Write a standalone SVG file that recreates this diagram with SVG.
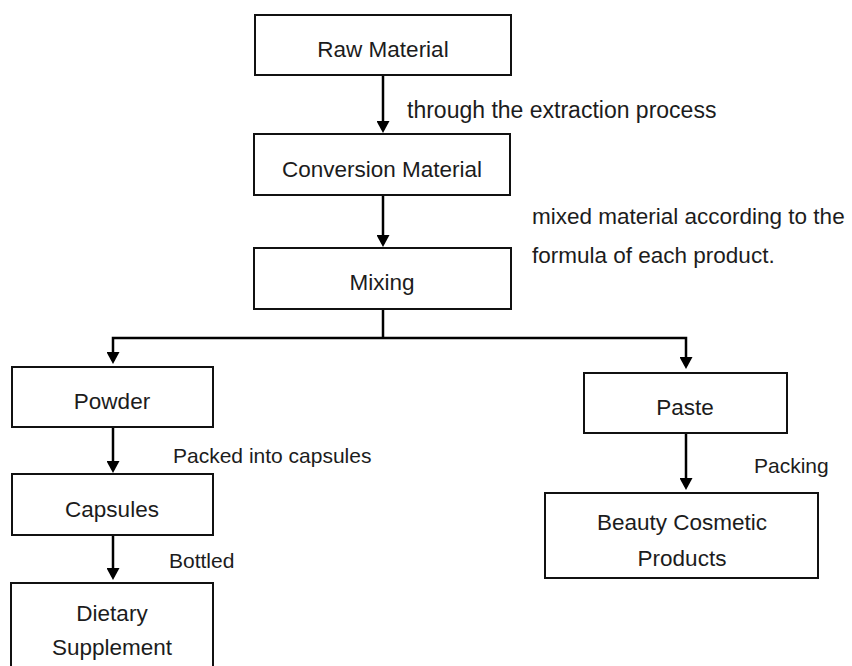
<svg xmlns="http://www.w3.org/2000/svg" width="852" height="666" viewBox="0 0 852 666">
<style>
  .box { fill: #ffffff; stroke: #111111; stroke-width: 2; }
  .t { font-family: "Liberation Sans", Arial, sans-serif; font-size: 22.5px; fill: #1c1c1c; text-anchor: middle; }
  .lbl { font-family: "Liberation Sans", Arial, sans-serif; font-size: 21px; fill: #1c1c1c; }
  .big { font-size: 23px; }
  .mid { font-size: 22.5px; }
  .conn { fill: none; stroke: #000000; stroke-width: 2.5; }
</style>
<defs>
  <marker id="arrow" viewBox="0 0 12 13" refX="9" refY="6.5" markerWidth="12" markerHeight="13" markerUnits="userSpaceOnUse" orient="auto">
    <path d="M0,0 L12,6.5 L0,13 z" fill="#000000"/>
  </marker>
</defs>
<rect width="852" height="666" fill="#ffffff"/>

<g id="connectors">
  <path class="conn" d="M383,75 V130" marker-end="url(#arrow)"/>
  <path class="conn" d="M383,195 V244" marker-end="url(#arrow)"/>
  <path class="conn" d="M383,309 V338"/>
  <path class="conn" d="M383,338 H113 V361" marker-end="url(#arrow)"/>
  <path class="conn" d="M383,338 H686 V366" marker-end="url(#arrow)"/>
  <path class="conn" d="M113,427 V470" marker-end="url(#arrow)"/>
  <path class="conn" d="M113,535 V577" marker-end="url(#arrow)"/>
  <path class="conn" d="M686,433 V487" marker-end="url(#arrow)"/>
</g>

<g id="raw-material">
  <rect class="box" x="255" y="15" width="256" height="60"/>
  <text class="t" x="383" y="57">Raw Material</text>
</g>
<g id="conversion-material">
  <rect class="box" x="254" y="134" width="256" height="61"/>
  <text class="t" x="382" y="177">Conversion Material</text>
</g>
<g id="mixing">
  <rect class="box" x="254" y="248" width="257" height="61"/>
  <text class="t" x="382" y="290">Mixing</text>
</g>
<g id="powder">
  <rect class="box" x="12" y="367" width="201" height="60"/>
  <text class="t" x="112" y="409">Powder</text>
</g>
<g id="capsules">
  <rect class="box" x="12" y="474" width="201" height="61"/>
  <text class="t" x="112" y="517">Capsules</text>
</g>
<g id="dietary-supplement">
  <rect class="box" x="11" y="583" width="202" height="100"/>
  <text class="t" x="112" y="621">Dietary</text>
  <text class="t" x="112" y="655">Supplement</text>
</g>
<g id="paste">
  <rect class="box" x="584" y="373" width="203" height="60"/>
  <text class="t" x="685" y="415">Paste</text>
</g>
<g id="beauty-cosmetic-products">
  <rect class="box" x="545" y="493" width="273" height="85"/>
  <text class="t" x="682" y="530">Beauty Cosmetic</text>
  <text class="t" x="682" y="566">Products</text>
</g>

<g id="labels">
  <text class="lbl big" x="407" y="118">through the extraction process</text>
  <text class="lbl mid" x="532" y="224">mixed material according to the</text>
  <text class="lbl mid" x="532" y="263">formula of each product.</text>
  <text class="lbl" x="173" y="463">Packed into capsules</text>
  <text class="lbl" x="169" y="568">Bottled</text>
  <text class="lbl" x="754" y="473">Packing</text>
</g>
</svg>
